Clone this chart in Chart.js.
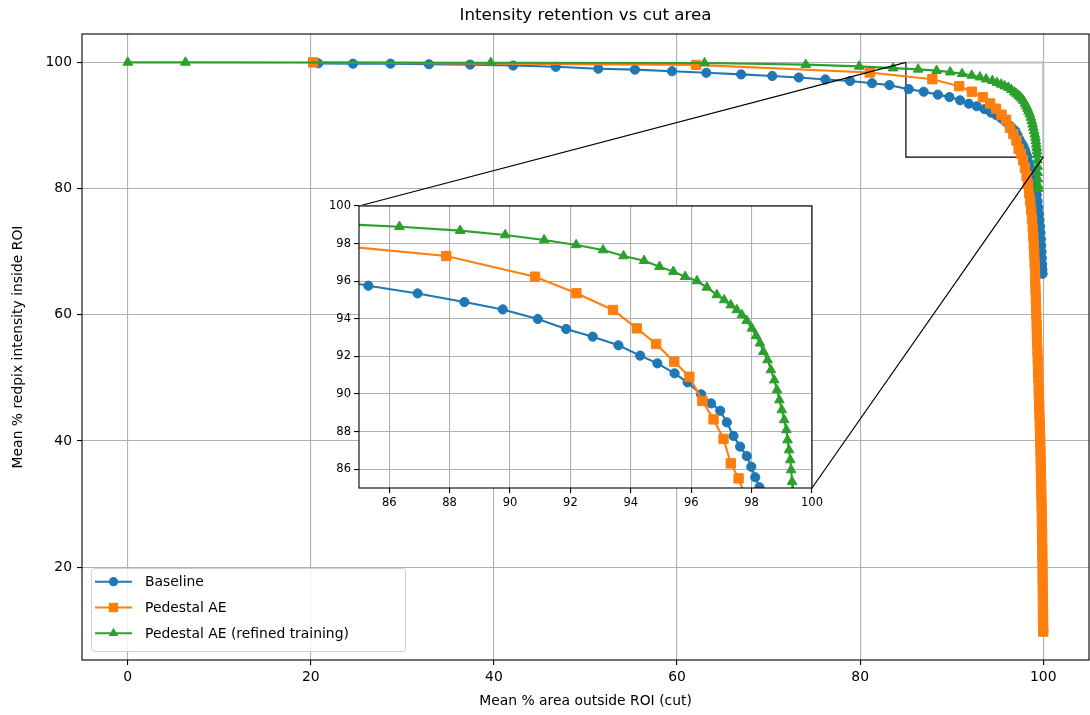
<!DOCTYPE html>
<html>
<head>
<meta charset="utf-8">
<script src="https://cdn.jsdelivr.net/npm/chart.js@4.4.1/dist/chart.umd.min.js"></script>
<style>
  body { margin: 0; background: #fff; }
  #wrap { position: relative; width: 1090px; height: 715px; }
  #main { position: absolute; left: 0; top: 0; }
  #inset { position: absolute; left: 320px; top: 196px; }
</style>
</head>
<body>
<div id="wrap">
  <canvas id="main" width="1090" height="715"></canvas>
  <canvas id="inset" width="510" height="320"></canvas>
</div>
<script>
// values
const baselineX = [20.8, 24.6, 28.7, 32.9, 37.4, 42.1, 46.75, 51.4, 55.4, 59.45, 63.2, 67.0, 70.4, 73.3, 76.2, 78.9, 81.3, 83.2,
  85.31, 86.94, 88.49, 89.76, 90.92, 91.86, 92.74, 93.59, 94.31, 94.88, 95.45, 95.88, 96.33, 96.66, 96.96, 97.18, 97.40, 97.62,
  97.84, 97.99, 98.12, 98.26, 98.5, 98.72, 98.9, 99.05, 99.18, 99.29, 99.38, 99.46, 99.53, 99.59, 99.65, 99.7, 99.74, 99.78,
  99.82, 99.85, 99.88, 99.91, 99.93];
const baselineY = [99.85, 99.8, 99.8, 99.7, 99.65, 99.5, 99.3, 99.0, 98.85, 98.6, 98.35, 98.1, 97.85, 97.6, 97.3, 97.05, 96.7, 96.4,
  95.76, 95.35, 94.89, 94.5, 93.99, 93.46, 93.05, 92.59, 92.04, 91.63, 91.1, 90.62, 89.98, 89.5, 89.11, 88.49, 87.77, 87.2,
  86.7, 86.13, 85.57, 85.04, 84.0, 83.0, 82.0, 81.0, 80.0, 79.0, 78.0, 77.0, 76.0, 75.0, 74.0, 73.0, 72.0, 71.0,
  70.0, 69.0, 68.0, 67.2, 66.5];

const pedX = [20.25, 62.1, 81.05, 87.89, 90.83, 92.2, 93.41, 94.2, 94.84, 95.44, 95.94, 96.37, 96.74, 97.07, 97.31, 97.57,
  97.8, 98.0, 98.18, 98.33, 98.47, 98.58, 98.68, 98.77, 98.85, 98.92, 98.97, 99.02, 99.06, 99.1, 99.13, 99.16, 99.19, 99.22,
  99.25, 99.28, 99.31, 99.34, 99.37, 99.4, 99.43, 99.46, 99.5, 99.53, 99.56, 99.59, 99.62, 99.65, 99.68, 99.7, 99.72, 99.74,
  99.76, 99.78, 99.8, 99.82, 99.84, 99.85, 99.87, 99.88, 99.9, 99.91, 99.92, 99.93, 99.94, 99.95, 99.96, 99.97, 99.98, 99.99, 100];
const pedY = [100, 99.6, 98.4, 97.34, 96.24, 95.36, 94.47, 93.49, 92.66, 91.72, 90.92, 89.63, 88.65, 87.61, 86.31, 85.51,
  84.5, 83.3, 82.0, 80.7, 79.3, 78.0, 76.6, 75.2, 73.8, 72.4, 71.0, 69.6, 68.2, 66.8, 65.4, 64.0, 62.6, 61.2,
  59.8, 58.4, 57.0, 55.6, 54.2, 52.8, 51.4, 49.9, 48.3, 46.9, 45.4, 44.0, 42.6, 41.2, 39.8, 38.4, 37.0, 35.6,
  34.2, 32.8, 31.4, 30.0, 28.6, 27.2, 25.8, 24.4, 23.0, 21.6, 20.2, 18.8, 17.4, 16.0, 14.6, 13.2, 11.8, 10.4, 9.8];

const refinedX = [0, 6.3, 39.65, 63.0, 74.06, 79.9, 83.6, 86.34, 88.35, 89.84, 91.13, 92.19, 93.08, 93.76, 94.44, 94.95,
  95.41, 95.8, 96.19, 96.52, 96.85, 97.09, 97.31, 97.51, 97.68, 97.84, 98.01, 98.15, 98.28, 98.39, 98.53, 98.64, 98.75,
  98.84, 98.92, 99.0, 99.08, 99.15, 99.19, 99.24, 99.28, 99.31, 99.34, 99.37, 99.39, 99.41, 99.43, 99.45, 99.46];
const refinedY = [100, 100, 99.95, 99.9, 99.64, 99.37, 99.1, 98.9, 98.69, 98.46, 98.19, 97.93, 97.66, 97.34, 97.09, 96.77,
  96.51, 96.24, 96.01, 95.67, 95.27, 95.0, 94.73, 94.47, 94.2, 93.9, 93.49, 93.09, 92.7, 92.25, 91.81, 91.28, 90.74,
  90.21, 89.68, 89.15, 88.62, 88.09, 87.55, 87.02, 86.49, 85.96, 85.34, 84.5, 83.5, 82.5, 81.5, 80.5, 80.0];

const labels = ['Baseline', 'Pedestal AE', 'Pedestal AE (refined training)'];
const xTicksMain = [0, 20, 40, 60, 80, 100];
const yTicksMain = [20, 40, 60, 80, 100];
const insetTicks = [86, 88, 90, 92, 94, 96, 98, 100];
const zoomBox = [85, 100, 85, 100]; // xmin, xmax, ymin, ymax

const FONT = 'DejaVu Sans';
const colors = ['#1f77b4', '#ff7f0e', '#2ca02c'];
const styles = ['circle', 'rect', 'triangle'];
const radii = [4.6, 6.6, 5.6];
const xs = [baselineX, pedX, refinedX];
const ys = [baselineY, pedY, refinedY];

function pts(x, y) {
  return x.map((v, i) => ({ x: v, y: y[i] }));
}

function makeDatasets() {
  return labels.map((lab, i) => ({
    label: lab,
    data: pts(xs[i], ys[i]),
    borderColor: colors[i],
    backgroundColor: colors[i],
    borderWidth: 2.1,
    pointStyle: styles[i],
    pointRadius: radii[i],
    pointBorderWidth: 1,
    pointBorderColor: colors[i],
    pointBackgroundColor: colors[i],
    tension: 0,
    order: 3 - i,
  }));
}

function drawMarker(ctx, style, r, x, y) {
  ctx.beginPath();
  if (style == 'circle') {
    ctx.arc(x, y, r, 0, Math.PI * 2);
  } else if (style == 'rect') {
    const s = r * Math.SQRT1_2;
    ctx.rect(x - s, y - s, 2 * s, 2 * s);
  } else {
    ctx.moveTo(x, y - r);
    ctx.lineTo(x + r * Math.sin(Math.PI / 3), y + r / 2);
    ctx.lineTo(x - r * Math.sin(Math.PI / 3), y + r / 2);
    ctx.closePath();
  }
  ctx.fill();
}

// no extra room for edge labels, the plot box is set by hand
function noPad(s) {
  s.paddingLeft = 0;
  s.paddingRight = 0;
  s.paddingTop = 0;
  s.paddingBottom = 0;
}

function axisOpts(min, max, ticks, fontSize, pad) {
  return {
    type: 'linear',
    min: min,
    max: max,
    afterBuildTicks: (s) => { s.ticks = ticks.map((v) => ({ value: v })); },
    grid: { color: '#b0b0b0', lineWidth: 1.1, tickLength: 5, tickColor: '#000', tickWidth: 1.1 },
    border: { display: false },
    ticks: { color: '#000', font: { family: FONT, size: fontSize }, padding: pad, autoSkip: false, maxRotation: 0 },
  };
}

// white background + black frame round a chart area
const framePlugin = {
  id: 'frame',
  beforeDraw(chart) {
    const ca = chart.chartArea, ctx = chart.ctx;
    ctx.save();
    ctx.fillStyle = '#fff';
    ctx.fillRect(ca.left, ca.top, ca.right - ca.left, ca.bottom - ca.top);
    ctx.restore();
  },
  afterDatasetsDraw(chart) {
    const ca = chart.chartArea, ctx = chart.ctx;
    ctx.save();
    ctx.strokeStyle = '#000';
    ctx.lineWidth = 1.1;
    ctx.strokeRect(ca.left, ca.top, ca.right - ca.left, ca.bottom - ca.top);
    ctx.restore();
  },
};

// ---- inset
const insetX = axisOpts(85, 100, insetTicks, 11.5, 3);
insetX.afterFit = (s) => { s.height = 28; noPad(s); };
const insetY = axisOpts(85, 100, insetTicks, 11.5, 3);
insetY.afterFit = (s) => { s.width = 39; noPad(s); };

const insetCanvas = document.getElementById('inset');
const inset = new Chart(insetCanvas, {
  type: 'line',
  data: { datasets: makeDatasets() },
  options: {
    responsive: false,
    animation: false,
    events: [],
    layout: { autoPadding: false, padding: { top: 10, right: 18, left: 0, bottom: 0 } },
    plugins: { legend: { display: false }, tooltip: { enabled: false } },
    scales: { x: insetX, y: insetY },
  },
  plugins: [framePlugin],
});

// ---- main
const mainX = axisOpts(-5, 105, xTicksMain, 13.9, 4);
mainX.afterFit = (s) => { s.height = 55; noPad(s); };
mainX.title = { display: true, text: 'Mean % area outside ROI (cut)', color: '#000', font: { family: FONT, size: 13.9 }, padding: { bottom: 5 } };
const mainY = axisOpts(5.3, 104.5, yTicksMain, 13.9, 5);
mainY.afterFit = (s) => { s.width = 82; noPad(s); };
mainY.title = { display: true, text: 'Mean % redpix intensity inside ROI', color: '#000', font: { family: FONT, size: 13.9 }, padding: { top: 10 } };

const decorPlugin = {
  id: 'decor',
  beforeDatasetsDraw(chart) {
    // zoom rectangle
    const ctx = chart.ctx, sx = chart.scales.x, sy = chart.scales.y;
    const x0 = sx.getPixelForValue(zoomBox[0]), x1 = sx.getPixelForValue(zoomBox[1]);
    const y0 = sy.getPixelForValue(zoomBox[2]), y1 = sy.getPixelForValue(zoomBox[3]);
    ctx.save();
    ctx.lineWidth = 2;
    ctx.strokeStyle = '#bdbdbd';
    ctx.beginPath();
    ctx.moveTo(x0, y1); ctx.lineTo(x1, y1); ctx.lineTo(x1, y0);
    ctx.stroke();
    ctx.lineWidth = 1.2;
    ctx.strokeStyle = '#000';
    ctx.beginPath();
    ctx.moveTo(x0, y1); ctx.lineTo(x0, y0); ctx.lineTo(x1, y0);
    ctx.stroke();
    ctx.restore();
  },
  afterDraw(chart) {
    const ctx = chart.ctx, ca = chart.chartArea, sx = chart.scales.x, sy = chart.scales.y;
    const ia = inset.chartArea, ox = insetCanvas.offsetLeft, oy = insetCanvas.offsetTop;
    ctx.save();
    // connectors
    ctx.strokeStyle = '#000';
    ctx.lineWidth = 1.2;
    ctx.beginPath();
    ctx.moveTo(sx.getPixelForValue(zoomBox[0]), sy.getPixelForValue(zoomBox[3]));
    ctx.lineTo(ox + ia.left, oy + ia.top);
    ctx.moveTo(sx.getPixelForValue(zoomBox[1]), sy.getPixelForValue(zoomBox[2]));
    ctx.lineTo(ox + ia.right, oy + ia.bottom);
    ctx.stroke();

    // title
    ctx.fillStyle = '#000';
    ctx.font = '16.7px "' + FONT + '"';
    ctx.textAlign = 'center';
    ctx.textBaseline = 'middle';
    ctx.fillText('Intensity retention vs cut area', (ca.left + ca.right) / 2, 16);

    // legend
    const lw = 314, lh = 83;
    const lx = ca.left + 9, ly = ca.bottom - 9 - lh;
    ctx.beginPath();
    ctx.roundRect(lx + 0.5, ly + 0.5, lw, lh, 3);
    ctx.fillStyle = 'rgba(255,255,255,0.8)';
    ctx.fill();
    ctx.strokeStyle = '#d0d0d0';
    ctx.lineWidth = 1;
    ctx.stroke();
    ctx.font = '13.9px "' + FONT + '"';
    ctx.textAlign = 'left';
    labels.forEach((lab, i) => {
      const y = ly + 13.7 + i * 25.8;
      ctx.strokeStyle = colors[i];
      ctx.lineWidth = 2.1;
      ctx.beginPath();
      ctx.moveTo(lx + 4, y);
      ctx.lineTo(lx + 41, y);
      ctx.stroke();
      ctx.fillStyle = colors[i];
      drawMarker(ctx, styles[i], radii[i], lx + 22.5, y);
      ctx.fillStyle = '#000';
      ctx.fillText(lab, lx + 54, y + 1);
    });
    ctx.restore();
  },
};

const mainChart = new Chart(document.getElementById('main'), {
  type: 'line',
  data: { datasets: makeDatasets() },
  options: {
    responsive: false,
    animation: false,
    events: [],
    layout: { autoPadding: false, padding: { top: 34, right: 1, left: 0, bottom: 0 } },
    plugins: { legend: { display: false }, tooltip: { enabled: false }, title: { display: false } },
    scales: { x: mainX, y: mainY },
  },
  plugins: [framePlugin, decorPlugin],
});
</script>
</body>
</html>
